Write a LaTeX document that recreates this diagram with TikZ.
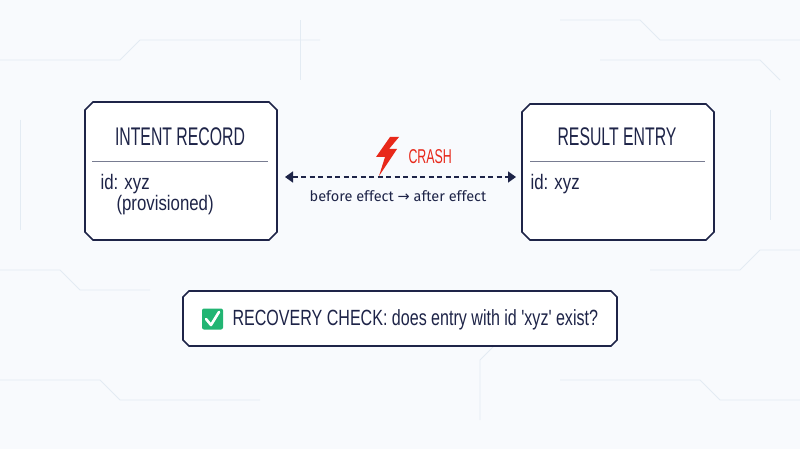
\documentclass[tikz,border=0pt]{standalone}
\usepackage{fontspec}
\setmainfont{Fira Sans}
\newfontfamily\cond[FakeStretch=0.62]{Liberation Sans}
\newfontfamily\condb[FakeStretch=0.8]{Liberation Sans}
\newfontfamily\condc[FakeStretch=0.73]{Liberation Sans}
\newfontfamily\sym{DejaVu Sans}
\usetikzlibrary{arrows.meta}
\definecolor{ink}{HTML}{1E2448}
\definecolor{crash}{HTML}{E8281A}
\definecolor{okg}{HTML}{22B573}
\definecolor{bgc}{HTML}{F8FAFD}
\definecolor{grid}{HTML}{E3EBF3}
\begin{document}
\begin{tikzpicture}[x=1pt,y=-1pt,
  boxline/.style={draw=ink,line width=1.6pt,fill=white},
  title/.style={font=\cond\fontsize{25.5}{25.5}\selectfont,text=ink},
  body/.style={font=\condb\fontsize{21}{22}\selectfont,text=ink,anchor=west},
  lbl/.style={font=\fontsize{14.5}{14.5}\selectfont,text=ink}]
\fill[bgc] (0,0) rectangle (800,449);
\useasboundingbox (0,0) rectangle (800,449);
\begin{scope}[grid,line width=0.8pt]
\draw (0,60)--(120,60)--(140,40)--(320,40);
\draw (560,20)--(640,20)--(660,40)--(800,40);
\draw (600,60)--(760,60)--(780,80);
\draw (0,270)--(60,270)--(80,290)--(150,290);
\draw (650,270)--(740,270)--(760,250)--(800,250);
\draw (0,380)--(100,380)--(120,400)--(260,400);
\draw (560,380)--(700,380)--(720,400)--(800,400);
\draw (300,80)--(300,20); \draw (480,420)--(480,360)--(500,340);
\draw (20,120)--(20,230); \draw (770,110)--(770,220);
\end{scope}
\draw[boxline] (93,102)--(269,102)--(277,110)--(277,232)--(269,240)--(93,240)--(85,232)--(85,110)--cycle;
\draw[boxline] (530,104)--(706,104)--(714,112)--(714,232)--(706,240)--(530,240)--(522,232)--(522,112)--cycle;
\node[title] (lt) at (180,137) {INTENT RECORD};
\node[title] (rt) at (617,137) {RESULT ENTRY};
\draw[ink!60,line width=0.8pt] (92,161) coordinate (l1) -- (268,161) coordinate (l2);
\draw[ink!60,line width=0.8pt] (530,161) coordinate (r1) -- (705,161) coordinate (r2);
\node[body] (lid) at (97,184) {id: xyz};
\node[body] (lpr) at (113,205) {(provisioned)};
\node[body] (rid) at (527,184) {id: xyz};
\coordinate (a1) at (285,177); \coordinate (a2) at (516,177);
\draw[ink,line width=1.6pt,dash pattern=on 5pt off 3.5pt,{Triangle[length=8pt,width=11pt]}-{Triangle[length=8pt,width=11pt]}] (a1) -- (a2);
\fill[crash] (390,137)--(376,157)--(385,157)--(379,176)--(397,149)--(389,149)--(399,137)--cycle;
\node[font=\cond\fontsize{20}{20}\selectfont,text=crash,anchor=west] (cr) at (405,157) {CRASH};
\node[lbl] (be) at (398,196) {before effect {\sym→} after effect};
\draw[boxline] (189,291)--(611,291)--(617,297)--(617,340)--(611,346)--(189,346)--(183,340)--(183,297)--cycle;
\node[fill=okg,rounded corners=2pt,minimum size=21pt,inner sep=0pt] (ck) at (212.5,319) {};
\draw[white,line width=2.6pt,line cap=round,line join=round] (206,319)--(211,325)--(219,312);
\node[body,font=\condc\fontsize{22}{22}\selectfont] (rt2) at (229,320) {RECOVERY CHECK: does entry with id 'xyz' exist?};
\end{tikzpicture}
\end{document}
